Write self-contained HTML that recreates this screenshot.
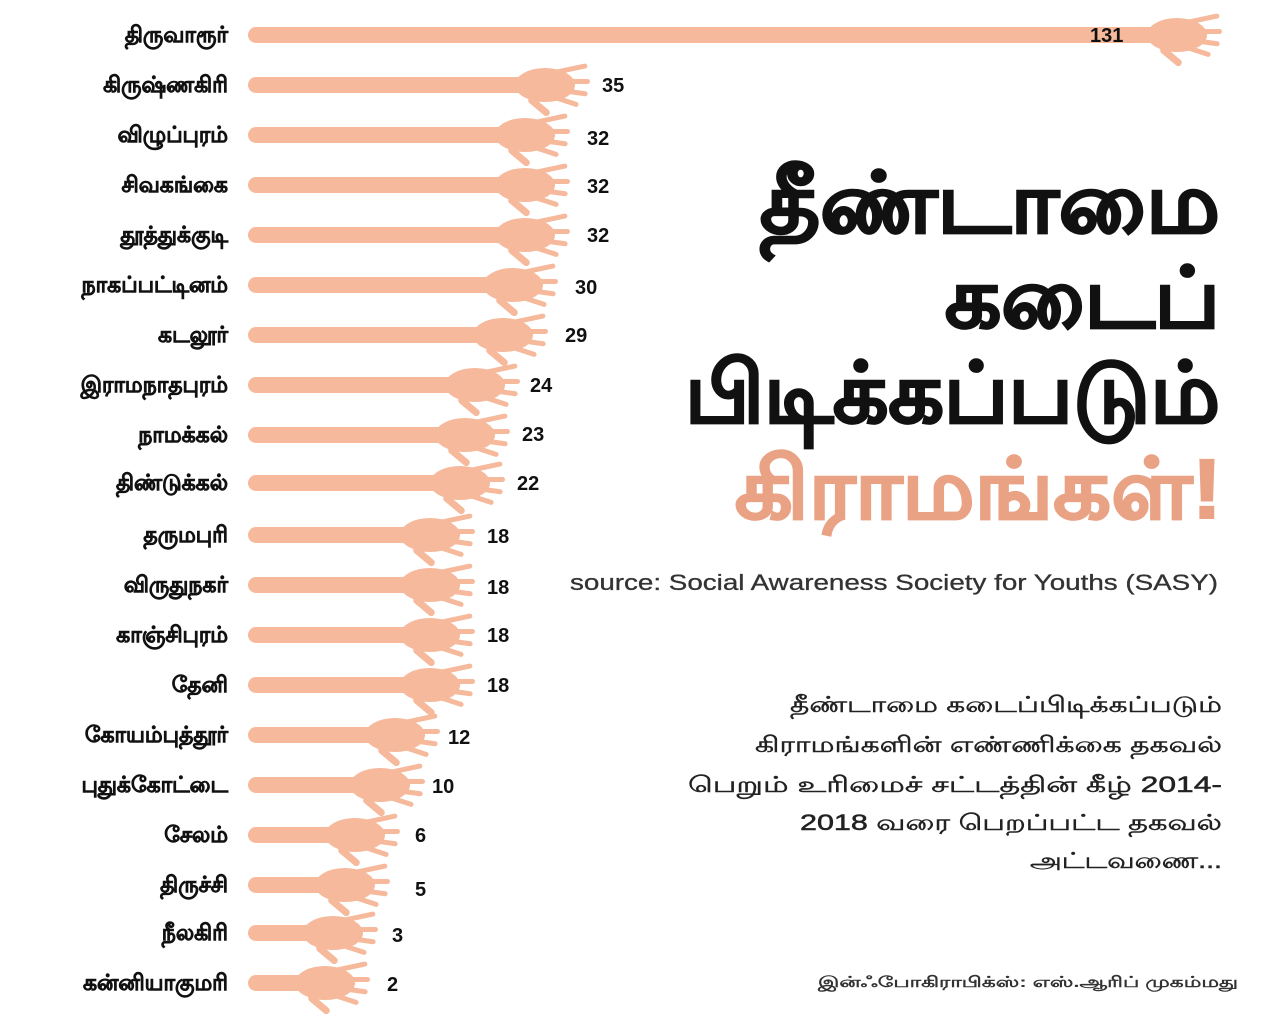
<!DOCTYPE html>
<html><head><meta charset="utf-8">
<style>
html,body{margin:0;padding:0;background:#fff;}
svg{display:block;}
text{font-family:"Liberation Sans","Noto Sans CJK JP",sans-serif;}
</style></head>
<body>
<svg width="1280" height="1032" viewBox="0 0 1280 1032" xmlns="http://www.w3.org/2000/svg">
<defs>
<g id="hand">
  <ellipse cx="-45" cy="0" rx="30" ry="17" fill="#f6b99b"/>
  <rect x="-40" y="-14" width="38" height="5" rx="2.5" fill="#f6b99b" transform="rotate(-12 -40 -12)"/>
  <rect x="-35" y="-6" width="35" height="5" rx="2.5" fill="#f6b99b"/>
  <rect x="-35" y="2" width="33" height="5" rx="2.5" fill="#f6b99b" transform="rotate(8 -35 4)"/>
  <rect x="-38" y="9" width="28" height="5" rx="2.5" fill="#f6b99b" transform="rotate(18 -38 11)"/>
  <rect x="-60" y="10" width="26" height="7" rx="3.5" fill="#f6b99b" transform="rotate(40 -60 12)"/>
</g>
</defs>
<g font-weight="bold" font-size="20" fill="#111">
<g fill="#f6b99b">
<rect x="248" y="27" width="920" height="16" rx="8"/>
<rect x="248" y="77" width="300" height="16" rx="8"/>
<rect x="248" y="127" width="280" height="16" rx="8"/>
<rect x="248" y="177" width="280" height="16" rx="8"/>
<rect x="248" y="227" width="280" height="16" rx="8"/>
<rect x="248" y="277" width="270" height="16" rx="8"/>
<rect x="248" y="327" width="255" height="16" rx="8"/>
<rect x="248" y="377" width="230" height="16" rx="8"/>
<rect x="248" y="427" width="220" height="16" rx="8"/>
<rect x="248" y="475" width="215" height="16" rx="8"/>
<rect x="248" y="527" width="185" height="16" rx="8"/>
<rect x="248" y="577" width="185" height="16" rx="8"/>
<rect x="248" y="627" width="185" height="16" rx="8"/>
<rect x="248" y="677" width="185" height="16" rx="8"/>
<rect x="248" y="727" width="150" height="16" rx="8"/>
<rect x="248" y="777" width="135" height="16" rx="8"/>
<rect x="248" y="827" width="110" height="16" rx="8"/>
<rect x="248" y="877" width="100" height="16" rx="8"/>
<rect x="248" y="925" width="90" height="16" rx="8"/>
<rect x="248" y="975" width="85" height="16" rx="8"/>
</g>
<use href="#hand" x="1222" y="35"/>
<use href="#hand" x="590" y="85"/>
<use href="#hand" x="570" y="135"/>
<use href="#hand" x="570" y="185"/>
<use href="#hand" x="570" y="235"/>
<use href="#hand" x="558" y="285"/>
<use href="#hand" x="548" y="335"/>
<use href="#hand" x="520" y="385"/>
<use href="#hand" x="510" y="435"/>
<use href="#hand" x="505" y="483"/>
<use href="#hand" x="475" y="535"/>
<use href="#hand" x="475" y="585"/>
<use href="#hand" x="475" y="635"/>
<use href="#hand" x="475" y="685"/>
<use href="#hand" x="440" y="735"/>
<use href="#hand" x="425" y="785"/>
<use href="#hand" x="400" y="835"/>
<use href="#hand" x="390" y="885"/>
<use href="#hand" x="378" y="933"/>
<use href="#hand" x="370" y="983"/>

<g text-anchor="end" font-size="22" stroke="#111" stroke-width="0.6">
<text x="228" y="42">திருவாரூர்</text>
<text x="228" y="92">கிருஷ்ணகிரி</text>
<text x="228" y="142">விழுப்புரம்</text>
<text x="228" y="192">சிவகங்கை</text>
<text x="228" y="242">தூத்துக்குடி</text>
<text x="228" y="292">நாகப்பட்டினம்</text>
<text x="228" y="342">கடலூர்</text>
<text x="228" y="392">இராமநாதபுரம்</text>
<text x="228" y="442">நாமக்கல்</text>
<text x="228" y="490">திண்டுக்கல்</text>
<text x="228" y="542">தருமபுரி</text>
<text x="228" y="592">விருதுநகர்</text>
<text x="228" y="642">காஞ்சிபுரம்</text>
<text x="228" y="692">தேனி</text>
<text x="228" y="742">கோயம்புத்தூர்</text>
<text x="228" y="792">புதுக்கோட்டை</text>
<text x="228" y="842">சேலம்</text>
<text x="228" y="892">திருச்சி</text>
<text x="228" y="940">நீலகிரி</text>
<text x="228" y="990">கன்னியாகுமரி</text>
</g>
<text x="1090" y="42">131</text>
<text x="602" y="92">35</text>
<text x="587" y="145">32</text>
<text x="587" y="193">32</text>
<text x="587" y="242">32</text>
<text x="575" y="294">30</text>
<text x="565" y="342">29</text>
<text x="530" y="392">24</text>
<text x="522" y="441">23</text>
<text x="517" y="490">22</text>
<text x="487" y="543">18</text>
<text x="487" y="594">18</text>
<text x="487" y="642">18</text>
<text x="487" y="692">18</text>
<text x="448" y="744">12</text>
<text x="432" y="793">10</text>
<text x="415" y="842">6</text>
<text x="415" y="896">5</text>
<text x="392" y="942">3</text>
<text x="387" y="991">2</text>
</g>

<g font-weight="bold" stroke-width="2">
<text x="760" y="232" font-size="84" fill="#111" stroke="#111" textLength="460" lengthAdjust="spacingAndGlyphs">தீண்டாமை</text>
<text x="945" y="327" font-size="84" fill="#111" stroke="#111" textLength="275" lengthAdjust="spacingAndGlyphs">கடைப்</text>
<text x="685" y="422" font-size="84" fill="#111" stroke="#111" textLength="535" lengthAdjust="spacingAndGlyphs">பிடிக்கப்படும்</text>
<text x="735" y="518" font-size="84" fill="#e9a284" stroke="#e9a284" textLength="487" lengthAdjust="spacingAndGlyphs">கிராமங்கள்!</text>
</g>
<text x="570" y="590" font-size="22" fill="#333" stroke="#333" stroke-width="0.3" textLength="648" lengthAdjust="spacingAndGlyphs">source: Social Awareness Society for Youths (SASY)</text>
<g font-size="22" fill="#222" stroke="#222" stroke-width="0.5">
<text x="790" y="712" textLength="432" lengthAdjust="spacingAndGlyphs">தீண்டாமை கடைப்பிடிக்கப்படும்</text>
<text x="755" y="752" textLength="467" lengthAdjust="spacingAndGlyphs">கிராமங்களின் எண்ணிக்கை தகவல்</text>
<text x="688" y="792" textLength="534" lengthAdjust="spacingAndGlyphs">பெறும் உரிமைச் சட்டத்தின்  கீழ் 2014-</text>
<text x="800" y="830" textLength="422" lengthAdjust="spacingAndGlyphs">2018 வரை பெறப்பட்ட தகவல்</text>
<text x="1030" y="868" textLength="192" lengthAdjust="spacingAndGlyphs">அட்டவணை...</text>
</g>
<text x="818" y="987" font-size="15" font-weight="bold" fill="#333" textLength="420" lengthAdjust="spacingAndGlyphs">இன்ஃபோகிராபிக்ஸ்: எஸ்.ஆரிப் முகம்மது</text>
</svg>
</body></html>
